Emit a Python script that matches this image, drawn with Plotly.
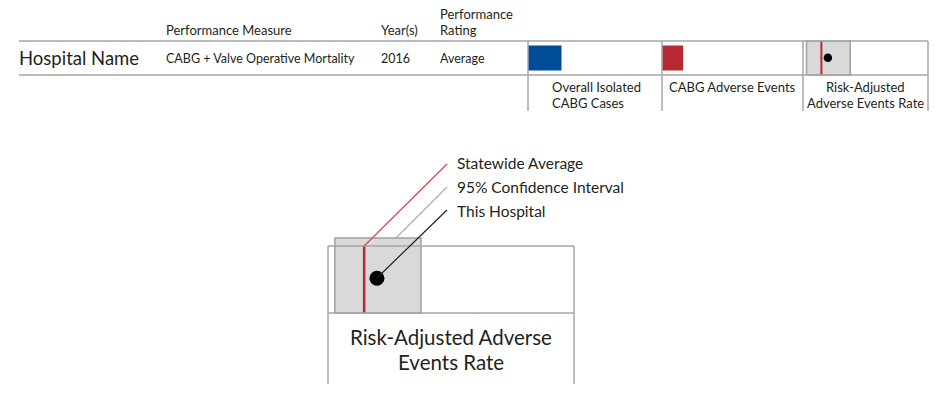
import plotly.graph_objects as go

# ---------------- data ----------------
hospital_name = "Hospital Name"
header_labels = ["Performance Measure", "Year(s)", ["Performance", "Rating"]]
row_values = ["CABG + Valve Operative Mortality", "2016", "Average"]
cell_labels = [["Overall Isolated", "CABG Cases"], ["CABG Adverse Events"],
               ["Risk-Adjusted", "Adverse Events Rate"]]

# values expressed as fraction of each cell's width
overall_cases = 0.25        # blue bar
adverse_events = 0.15       # red bar
ci_low, ci_high = 0.028, 0.378   # 95% confidence interval
statewide_avg = 0.147
this_hospital = 0.199

legend_labels = ["Statewide Average", "95% Confidence Interval", "This Hospital"]
detail_title = ["Risk-Adjusted Adverse", "Events Rate"]

# ---------------- styling ----------------
FONT = "Lato"
TXT = "#231f20"
GRID = "#a6a6a6"
BLUE = "#004c97"
RED = "#b72a31"
CIFILL = "#d9d9d9"
CILINE = "#a0a0a0"

fig = go.Figure()
shapes = []
ann = []

def line(x0, y0, x1, y1, color=GRID, width=1.5):
    shapes.append(dict(type="line", x0=x0, y0=y0, x1=x1, y1=y1,
                       line=dict(color=color, width=width), layer="above"))

def rect(x0, y0, x1, y1, fill, color=None, width=0):
    shapes.append(dict(type="rect", x0=x0, y0=y0, x1=x1, y1=y1, fillcolor=fill,
                       line=dict(color=color or fill, width=width), layer="below"))

def text(x, y, s, size, anchor="left", color=TXT):
    ann.append(dict(x=x, y=y, text=s, showarrow=False, xanchor=anchor, yanchor="middle",
                    font=dict(family=FONT, size=size, color=color)))

# ---- top table ----
row_top, row_bot, lab_bot = 41, 75, 111
left, right = 19, 928
cells = [528, 662, 803, 928]

text(164, 30, header_labels[0], 13)
text(379, 30, header_labels[1], 13)
text(438, 14, header_labels[2][0], 13)
text(438, 30, header_labels[2][1], 13)
text(17, 58, hospital_name, 18.5)
text(164, 58, row_values[0], 12.5)
text(379, 58, row_values[1], 12.5)
text(438, 58, row_values[2], 12.5)

w0 = cells[1] - cells[0]
rect(cells[0], 45.5, cells[0] + overall_cases * w0, 70.5, BLUE)
w1 = cells[2] - cells[1]
rect(cells[1], 45.5, cells[1] + adverse_events * w1, 70.5, RED)
w2 = cells[3] - cells[2]
rect(cells[2] + ci_low * w2, row_top, cells[2] + ci_high * w2, row_bot, CIFILL, CILINE, 1.5)
line(cells[2] + statewide_avg * w2, row_top, cells[2] + statewide_avg * w2, row_bot, RED, 2)

line(left, row_top, right, row_top)
line(left, row_bot, right, row_bot)
for cx in cells:
    line(cx, row_top, cx, lab_bot)

# cell labels: first is a left-aligned block, others centered
for j, s in enumerate(cell_labels[0]):
    text(550, 87 + 16 * j, s, 13)
for i in (1, 2):
    cx = (cells[i] + cells[i + 1]) / 2
    for j, s in enumerate(cell_labels[i]):
        text(cx, 87 + 16 * j, s, 13, anchor="center")

# ---- detail diagram ----
bx0, bx1, by0, bmid, by1 = 328, 574, 246, 313, 384
scale = bx1 - bx0
ci_x0 = bx0 + ci_low * scale
ci_x1 = bx0 + ci_high * scale
sa_x = bx0 + statewide_avg * scale
hp_x = bx0 + this_hospital * scale
rect(ci_x0, 238, ci_x1, bmid, CIFILL, CILINE, 1.5)
line(sa_x, by0, sa_x, bmid, RED, 2.5)
line(bx0, by0, bx1, by0)
line(bx0, bmid, bx1, bmid)
line(bx0, by0, bx0, by1)
line(bx1, by0, bx1, by1)

lx = 447
line(sa_x, by0, lx, 164, "#d9464c", 1.2)
line(396, 238, lx, 187, "#b0b0b0", 1.2)
line(hp_x, 278, lx, 210, "#231f20", 1.2)

text(455, 163, legend_labels[0], 15.5)
text(455, 187, legend_labels[1], 15.5)
text(455, 211, legend_labels[2], 15.5)
text((bx0 + bx1) / 2, 337, detail_title[0], 20.5, anchor="center")
text((bx0 + bx1) / 2, 362, detail_title[1], 20.5, anchor="center")

fig.add_trace(go.Scatter(x=[cells[2] + this_hospital * w2, hp_x], y=[57.7, 278.3], mode="markers",
                         marker=dict(color="black", size=[8.5, 15], line=dict(width=0), opacity=1),
                         hoverinfo="skip", showlegend=False))

fig.update_layout(
    width=950, height=414, margin=dict(l=0, r=0, t=0, b=0),
    paper_bgcolor="white", plot_bgcolor="white",
    xaxis=dict(range=[0, 950], visible=False, fixedrange=True),
    yaxis=dict(range=[414, 0], visible=False, fixedrange=True),
    shapes=shapes, annotations=ann, showlegend=False,
)
fig.write_html("out.html", post_script="document.body.style.margin='0';",
               config={"displayModeBar": False})
